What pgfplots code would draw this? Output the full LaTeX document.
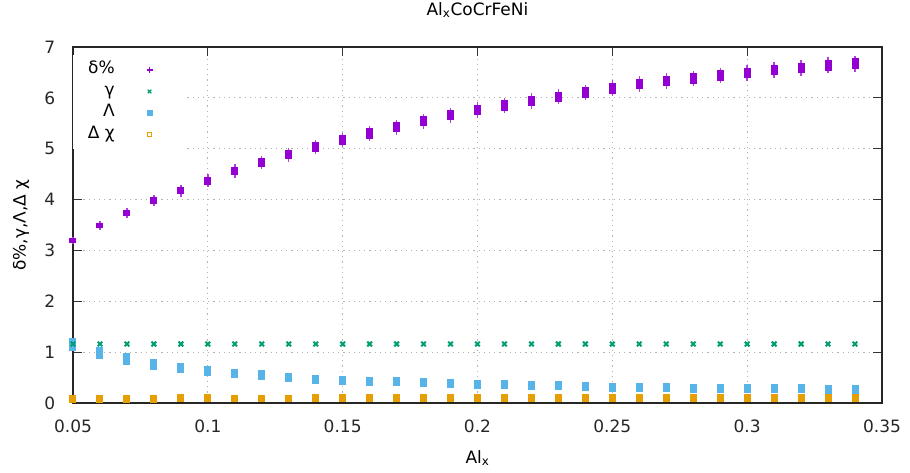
\documentclass[border=0pt]{standalone}
\usepackage{pgfplots}
\pgfplotsset{compat=1.18}
\usepackage{pgfplotstable}
\usepackage{fontspec}
\setmainfont{DejaVu Sans}
\definecolor{cpur}{HTML}{9400D3}
\definecolor{cgreen}{HTML}{009E73}
\definecolor{cblue}{HTML}{56B4E9}
\definecolor{corange}{HTML}{E69F00}

\pgfplotstableread{
x y b w
0.05 3.19 0.05 0.07
0.06 3.49 0.055 0.095
0.07 3.74 0.06 0.10
0.08 3.98 0.065 0.105
0.09 4.17 0.07 0.11
0.10 4.37 0.08 0.125
0.11 4.56 0.085 0.13
0.12 4.73 0.09 0.135
0.13 4.88 0.09 0.14
0.14 5.03 0.095 0.14
0.15 5.17 0.095 0.145
0.16 5.30 0.10 0.145
0.17 5.42 0.10 0.15
0.18 5.54 0.10 0.15
0.19 5.66 0.10 0.15
0.20 5.76 0.105 0.15
0.21 5.85 0.105 0.15
0.22 5.94 0.105 0.15
0.23 6.02 0.105 0.15
0.24 6.11 0.105 0.15
0.25 6.19 0.105 0.155
0.26 6.27 0.105 0.155
0.27 6.33 0.105 0.155
0.28 6.38 0.105 0.155
0.29 6.44 0.105 0.155
0.30 6.49 0.105 0.155
0.31 6.55 0.105 0.155
0.32 6.59 0.105 0.155
0.33 6.64 0.105 0.155
0.34 6.67 0.105 0.155
}\tdelta

\pgfplotstableread{
x g
0.05 1.16
0.06 1.16
0.07 1.16
0.08 1.16
0.09 1.16
0.10 1.16
0.11 1.16
0.12 1.16
0.13 1.16
0.14 1.16
0.15 1.16
0.16 1.16
0.17 1.16
0.18 1.16
0.19 1.16
0.20 1.16
0.21 1.16
0.22 1.16
0.23 1.16
0.24 1.16
0.25 1.16
0.26 1.16
0.27 1.16
0.28 1.16
0.29 1.16
0.30 1.16
0.31 1.16
0.32 1.16
0.33 1.16
0.34 1.16
}\tgamma

\pgfplotstableread{
x y b
0.05 1.15 0.125
0.06 0.99 0.12
0.07 0.86 0.12
0.08 0.76 0.11
0.09 0.69 0.105
0.10 0.63 0.095
0.11 0.58 0.09
0.12 0.55 0.09
0.13 0.50 0.09
0.14 0.47 0.09
0.15 0.45 0.09
0.16 0.43 0.09
0.17 0.42 0.09
0.18 0.40 0.09
0.19 0.38 0.09
0.20 0.37 0.09
0.21 0.36 0.09
0.22 0.35 0.09
0.23 0.34 0.09
0.24 0.32 0.09
0.25 0.31 0.09
0.26 0.30 0.09
0.27 0.30 0.09
0.28 0.29 0.09
0.29 0.28 0.085
0.30 0.28 0.085
0.31 0.28 0.085
0.32 0.28 0.085
0.33 0.27 0.085
0.34 0.27 0.085
}\tlambda

\pgfplotstableread{
x y b
0.05 0.08 0.075
0.06 0.08 0.075
0.07 0.08 0.075
0.08 0.08 0.075
0.09 0.09 0.08
0.10 0.09 0.08
0.11 0.09 0.075
0.12 0.09 0.075
0.13 0.09 0.075
0.14 0.10 0.075
0.15 0.10 0.075
0.16 0.10 0.075
0.17 0.10 0.075
0.18 0.10 0.075
0.19 0.10 0.075
0.20 0.10 0.075
0.21 0.10 0.075
0.22 0.10 0.075
0.23 0.10 0.075
0.24 0.10 0.075
0.25 0.10 0.075
0.26 0.10 0.075
0.27 0.10 0.075
0.28 0.10 0.075
0.29 0.10 0.075
0.30 0.10 0.075
0.31 0.10 0.075
0.32 0.10 0.075
0.33 0.10 0.075
0.34 0.10 0.075
}\tchi

\pgfplotsset{
  mylegend/.style={legend image code/.code={
    \path[draw=none, fill=none] (0pt,-2pt) rectangle (55pt,2pt);
    \draw[##1] plot coordinates {(32pt,0pt)};}},
  boxbar/.style={draw=none, mark=none, forget plot,
    error bars/.cd, y dir=both, y explicit, error mark=none,
    error bar style={draw=#1, line width=7pt}},
}

\begin{document}
\fontsize{17}{20}\selectfont
\begin{tikzpicture}
\begin{axis}[
  scale only axis,
  width=809pt, height=356pt,
  xmin=0.05, xmax=0.35, ymin=0, ymax=7,
  xtick={0.05,0.1,0.15,0.2,0.25,0.3,0.35},
  xticklabels={0.05,0.1,0.15,0.2,0.25,0.3,0.35},
  ytick={0,1,2,3,4,5,6,7},
  yticklabels={0,1,2,3,4,5,6,7},
  tick align=inside, tick pos=both,
  major tick length=9pt,
  every tick/.style={black!80, line width=1.2pt},
  axis line style={black!85, line width=1.2pt},
  grid=major,
  major grid style={gray!60, line width=1pt, dash pattern=on 1.2pt off 4pt},
  xticklabel style={yshift=-11pt, text=black!85},
  yticklabel style={xshift=-12pt, text=black!85},
  title={Al\textsubscript{x}CoCrFeNi},
  title style={at={(rel axis cs:0.5,1)}, anchor=base, yshift=26pt},
  xlabel={Al\textsubscript{x}},
  xlabel style={at={(rel axis cs:0.5,0)}, anchor=base, yshift=-60pt},
  ylabel={δ\%,γ,Λ,Δ χ},
  ylabel style={at={([xshift=-52pt]rel axis cs:0,0.5)}, anchor=center},
  clip=false,
  legend plot pos=right,
  legend cell align=right,
  legend style={at={([yshift=-8pt]rel axis cs:0,1)}, anchor=north west,
    draw=none, fill=white, inner xsep=12pt, inner ysep=4pt, row sep=0pt,
    nodes={text height=12pt, text depth=4pt, inner sep=2.75pt}},
]
% delta whiskers and boxes
\addplot[draw=none, mark=none, forget plot,
  error bars/.cd, y dir=both, y explicit, error mark=none,
  error bar style={draw=cpur!75, line width=1.4pt}]
  table[x=x, y=y, y error=w]{\tdelta};
\addplot[boxbar=cpur] table[x=x, y=y, y error=b]{\tdelta};
% gamma
\addplot[only marks, mark=x, mark size=3.3pt, line width=2pt, color=cgreen, forget plot]
  table[x=x, y=g]{\tgamma};
% lambda
\addplot[boxbar=cblue] table[x=x, y=y, y error=b]{\tlambda};
% chi
\addplot[boxbar=corange] table[x=x, y=y, y error=b]{\tchi};

\addlegendimage{mylegend, only marks, mark=+, mark size=3pt, line width=1.3pt, color=cpur, draw=cpur, mark options={draw=cpur}}
\addlegendentry{δ\%}
\addlegendimage{mylegend, only marks, mark=x, mark size=2.5pt, line width=1.2pt, color=cgreen}
\addlegendentry{γ}
\addlegendimage{mylegend, only marks, mark=square*, mark size=2.5pt, color=cblue}
\addlegendentry{Λ}
\addlegendimage{mylegend, only marks, mark=square, mark size=2.3pt, line width=1.2pt, color=corange}
\addlegendentry{Δ χ}
\end{axis}
\pgfresetboundingbox
\path (current axis.south west) ++(-73pt,-69pt) rectangle ++(910pt,472pt);
\end{tikzpicture}
\end{document}
